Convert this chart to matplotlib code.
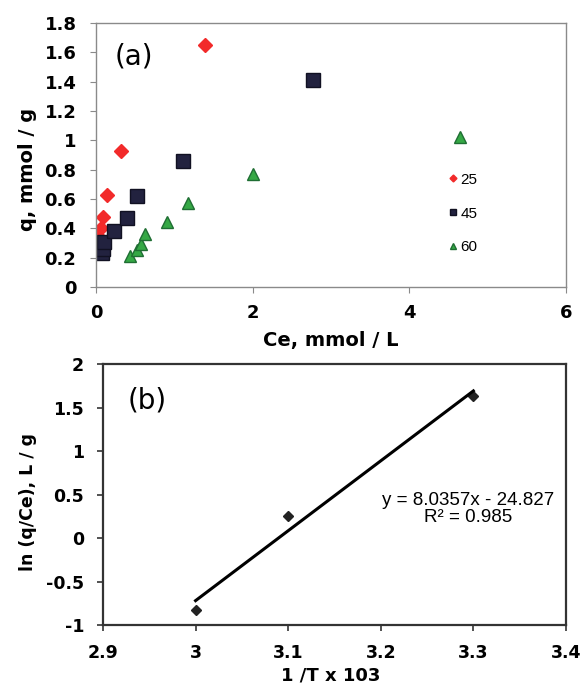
import matplotlib
matplotlib.use("Agg")
import matplotlib.pyplot as plt
import numpy as np

plt.rcParams["font.family"] = ["Liberation Sans", "DejaVu Sans"]

# --- panel (a): isotherms at three temperatures ---
ce_25 = [0.02, 0.03, 0.07, 0.09, 0.14, 0.32, 1.39]
q_25 = [0.30, 0.35, 0.40, 0.48, 0.63, 0.93, 1.65]
ce_45 = [0.08, 0.09, 0.10, 0.23, 0.40, 0.52, 1.11, 2.77]
q_45 = [0.23, 0.26, 0.31, 0.38, 0.47, 0.62, 0.86, 1.41]
ce_60 = [0.43, 0.53, 0.58, 0.63, 0.91, 1.17, 2.01, 4.65]
q_60 = [0.21, 0.25, 0.29, 0.36, 0.44, 0.57, 0.77, 1.02]
series_labels = ["25", "45", "60"]

# --- panel (b): van't Hoff plot ---
inv_t = [3.0, 3.1, 3.3]
ln_k = [-0.83, 0.25, 1.63]
fit_slope = 8.0357
fit_icpt = -24.827
fit_r2 = 0.985

COLORS = {
    "red": "#f22a2a",
    "navy": "#22223f",
    "green": "#35a845",
    "green_edge": "#1f6e33",
    "spine_a": "#8a8a8a",
    "spine_b": "#333333",
}

fig = plt.figure(figsize=(5.85, 6.91), dpi=100)
ax_a = fig.add_axes([0.164, 0.5847, 0.8035, 0.382])
ax_b = fig.add_axes([0.176, 0.0955, 0.7915, 0.3777])

tick_a = {"fontsize": 13, "fontweight": "bold", "family": "DejaVu Sans"}
tick_b = {"fontsize": 12.5, "fontweight": "bold", "family": "DejaVu Sans"}

# ---- (a) ----
ax_a.plot(ce_25, q_25, "D", color=COLORS["red"], ms=7, mec=COLORS["red"], label=series_labels[0])
ax_a.plot(ce_45, q_45, "s", color=COLORS["navy"], ms=10, mec="#111122", label=series_labels[1])
ax_a.plot(ce_60, q_60, "^", color=COLORS["green"], ms=9, mec=COLORS["green_edge"], label=series_labels[2])

ax_a.set_xlim(0, 6)
ax_a.set_ylim(0, 1.8)
ax_a.set_xticks([0, 2, 4, 6])
ax_a.set_yticks(np.arange(0, 1.81, 0.2))
ax_a.set_xticklabels(["0", "2", "4", "6"], **tick_a)
ax_a.set_yticklabels(["0", "0.2", "0.4", "0.6", "0.8", "1", "1.2", "1.4", "1.6", "1.8"], **tick_a)
ax_a.set_xlabel("Ce, mmol / L", fontsize=14, fontweight="bold", family="DejaVu Sans")
ax_a.set_ylabel("q, mmol / g", fontsize=14, fontweight="bold", family="DejaVu Sans")
ax_a.xaxis.set_label_coords(0.5, -0.165)
ax_a.yaxis.set_label_coords(-0.126, 0.445)
ax_a.text(0.04, 0.925, "(a)", transform=ax_a.transAxes, fontsize=20, family="DejaVu Sans",
          va="top", ha="left")
for sp in ax_a.spines.values():
    sp.set_color(COLORS["spine_a"])
    sp.set_linewidth(1.0)
ax_a.tick_params(direction="out", length=4, color=COLORS["spine_a"], pad=8)
ax_a.tick_params(axis="y", pad=10)

ax_a.legend(loc="center left", bbox_to_anchor=(0.72, 0.278), frameon=False,
            fontsize=11, markerscale=0.5, handlelength=0.6, handletextpad=0.2,
            labelspacing=1.3)

# ---- (b) ----
ax_b.plot(inv_t, ln_k, "D", color="#222222", ms=5)
fit_x = np.array([inv_t[0], inv_t[-1]])
ax_b.plot(fit_x, fit_slope * fit_x + fit_icpt, color="black", linewidth=2.2)

ax_b.set_xlim(2.9, 3.4)
ax_b.set_ylim(-1, 2)
ax_b.set_xticks([2.9, 3.0, 3.1, 3.2, 3.3, 3.4])
ax_b.set_xticklabels(["2.9", "3", "3.1", "3.2", "3.3", "3.4"], **tick_b)
ax_b.set_yticks([-1, -0.5, 0, 0.5, 1, 1.5, 2])
ax_b.set_yticklabels(["-1", "-0.5", "0", "0.5", "1", "1.5", "2"], **tick_b)
ax_b.set_xlabel("1 /T x 103", fontsize=13, fontweight="bold", family="DejaVu Sans")
ax_b.set_ylabel("ln (q/Ce), L / g", fontsize=12.5, fontweight="bold", family="DejaVu Sans")
ax_b.xaxis.set_label_coords(0.492, -0.158)
ax_b.yaxis.set_label_coords(-0.1425, 0.471)
ax_b.text(0.054, 0.915, "(b)", transform=ax_b.transAxes, fontsize=20, family="DejaVu Sans",
          va="top", ha="left")
ax_b.text(0.788, 0.444, f"y = {fit_slope}x - {abs(fit_icpt)}\nR\u00b2 = {fit_r2}",
          transform=ax_b.transAxes, fontsize=13.5, ha="center", va="center",
          multialignment="center", linespacing=1.05)
for sp in ax_b.spines.values():
    sp.set_color(COLORS["spine_b"])
    sp.set_linewidth(1.6)
ax_b.tick_params(direction="out", length=4.5, color=COLORS["spine_b"], width=1.2, pad=9)

fig.savefig("out.png", dpi=100, facecolor="white")
